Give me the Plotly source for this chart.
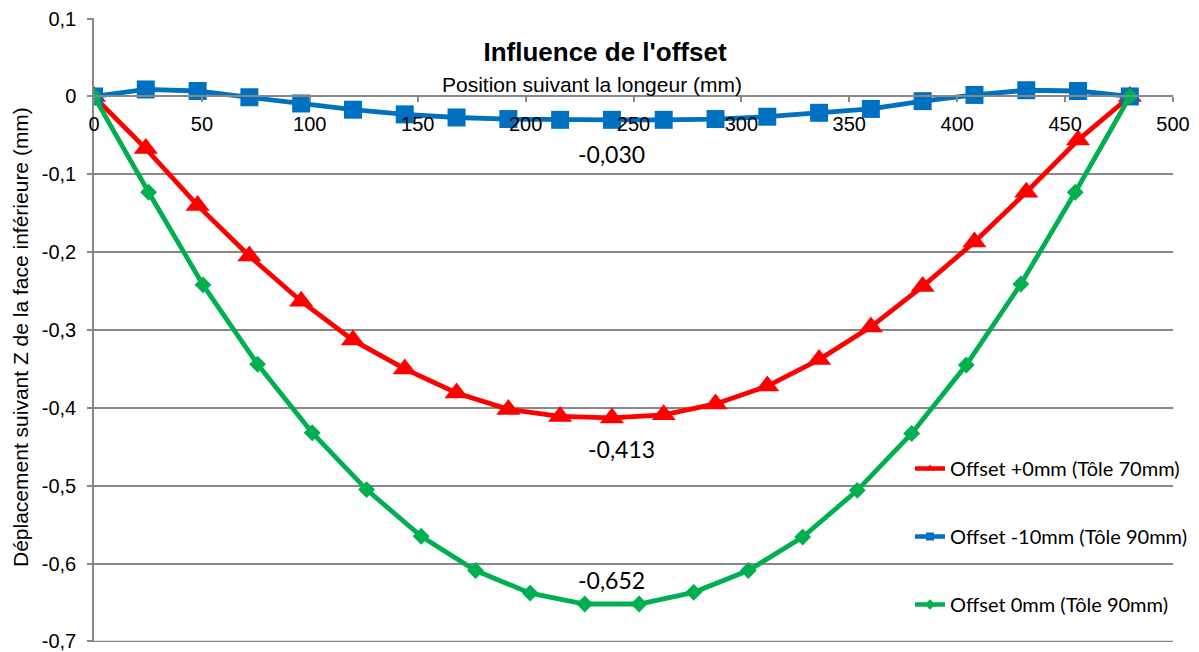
import plotly.graph_objects as go

# ---- data ----
x_pos_24 = [0, 24, 48, 72, 96, 120, 144, 168, 192, 216, 240, 264, 288, 312, 336, 360, 384, 408, 432, 456, 480]
x_pos_green = [0, 25.3, 50.5, 75.8, 101.1, 126.3, 151.6, 176.8, 202.1, 227.4, 252.6, 277.9, 303.2, 328.4,
               353.7, 378.9, 404.2, 429.5, 454.7, 480]

red_vals = [0, -0.067, -0.140, -0.205, -0.263, -0.313, -0.350, -0.381, -0.402, -0.411, -0.413, -0.409,
            -0.395, -0.372, -0.338, -0.296, -0.244, -0.187, -0.123, -0.056, 0]
blue_vals = [0, 0.009, 0.007, -0.001, -0.009, -0.017, -0.023, -0.027, -0.029, -0.030, -0.030, -0.030,
             -0.029, -0.026, -0.021, -0.016, -0.006, 0.002, 0.008, 0.007, 0]
green_vals = [0, -0.123, -0.242, -0.344, -0.432, -0.505, -0.565, -0.609, -0.638, -0.652, -0.652, -0.637,
              -0.609, -0.566, -0.506, -0.433, -0.345, -0.241, -0.123, 0]

series_names = ["Offset +0mm (Tôle 70mm)", "Offset -10mm (Tôle 90mm)", "Offset 0mm (Tôle 90mm)"]
series_colors = ["#FF0000", "#0070C0", "#00B050"]
series_symbols = ["triangle-up", "square", "diamond"]
series_sizes = [21, 18, 13]

y_tickvals = [0.1, 0, -0.1, -0.2, -0.3, -0.4, -0.5, -0.6, -0.7]
y_ticktext = ["0,1", "0", "-0,1", "-0,2", "-0,3", "-0,4", "-0,5", "-0,6", "-0,7"]
x_tickvals = [0, 50, 100, 150, 200, 250, 300, 350, 400, 450, 500]

title_text = "Influence de l'offset"
x_title = "Position suivant la longeur (mm)"
y_title = "Déplacement suivant Z de la face inférieure (mm)"

Y_RANGE = [-0.7, 0.1]
X_RANGE = [0, 500]

GRID = "#878787"
AX_FONT = "Liberation Sans, Arial, sans-serif"
LBL_FONT = "Lato, Carlito, Calibri, sans-serif"

W, H = 1199, 652
ML, MR, MT, MB = 94, 26, 18, 10
PW, PH = W - ML - MR, H - MT - MB


def fmt(v):
    return f"{v:.3f}".replace(".", ",")


fig = go.Figure()

series = [(x_pos_24, red_vals), (x_pos_24, blue_vals), (x_pos_green, green_vals)]
for k, (xs, ys) in enumerate(series):
    fig.add_trace(go.Scatter(
        x=xs, y=ys, name=series_names[k], mode="lines+markers",
        line=dict(color=series_colors[k], width=4.8),
        marker=dict(symbol=series_symbols[k], size=series_sizes[k], color=series_colors[k]),
        showlegend=False, hoverinfo="skip"))

# legend entries (small markers like the original legend)
for k in range(3):
    fig.add_trace(go.Scatter(
        x=[None], y=[None], name=series_names[k], mode="lines+markers",
        line=dict(color=series_colors[k], width=4.5),
        marker=dict(symbol=series_symbols[k], size=8, color=series_colors[k]),
        legendgroup="g%d" % k, showlegend=True))


# data labels for minimum values (centred on the minimum points)
def add_min_label(xs, ys, xshift, yshift):
    m = min(ys)
    xm = [x for x, y in zip(xs, ys) if y == m]
    fig.add_annotation(x=sum(xm) / len(xm), y=m, text=fmt(m), showarrow=False,
                       xshift=xshift, yshift=yshift,
                       font=dict(family=LBL_FONT, size=23, color="#000000"))


add_min_label(x_pos_24, blue_vals, 0, -34)
add_min_label(x_pos_24, red_vals, 10, -31)
add_min_label(x_pos_green, green_vals, 0, 24)

# axis titles
fig.add_annotation(x=(592 - ML) / PW, y=(H - MB - 85) / PH, xref="paper", yref="paper",
                   text=x_title, showarrow=False, xanchor="center", yanchor="middle",
                   font=dict(family=AX_FONT, size=21, color="#000000"))
fig.add_annotation(x=(20 - ML) / PW, y=(H - MB - 337) / PH, xref="paper", yref="paper",
                   text=y_title, showarrow=False, textangle=-90, xanchor="center", yanchor="middle",
                   font=dict(family=AX_FONT, size=21, color="#000000"))

# bottom gridline (plotly drops the gridline at the axis boundary)
fig.add_shape(type="line", xref="paper", x0=0, x1=1, yref="y", y0=Y_RANGE[0], y1=Y_RANGE[0],
              line=dict(color=GRID, width=1.5), layer="below")

x_axis_pos = (0 - Y_RANGE[0]) / (Y_RANGE[1] - Y_RANGE[0])
pad = 0.0008

fig.update_layout(
    width=W, height=H,
    margin=dict(l=ML, r=MR, t=MT, b=MB, autoexpand=False),
    paper_bgcolor="white", plot_bgcolor="white",
    title=dict(text="<b>" + title_text + "</b>", x=605 / W, xanchor="center",
               y=1 - 52 / H, yanchor="middle",
               font=dict(family=AX_FONT, size=26, color="#000000")),
    showlegend=True,
    legend=dict(x=(910 - ML) / PW, y=(H - MB - 449) / PH, xanchor="left", yanchor="top",
                bgcolor="rgba(0,0,0,0)", tracegroupgap=39, traceorder="grouped",
                font=dict(family=LBL_FONT, size=20, color="#000000")),
    xaxis=dict(range=X_RANGE, tickvals=x_tickvals, showgrid=False, zeroline=False,
               anchor="free", position=x_axis_pos, showline=True, linecolor=GRID, linewidth=1.5,
               ticks="outside", ticklen=5, tickcolor=GRID, tickwidth=1.5,
               ticklabelstandoff=5, automargin=False,
               tickfont=dict(family=AX_FONT, size=20, color="#000000")),
    yaxis=dict(range=[Y_RANGE[0] - pad, Y_RANGE[1] + pad], tickvals=y_tickvals, ticktext=y_ticktext,
               showgrid=True, gridcolor=GRID, gridwidth=1.5, zeroline=False,
               showline=True, linecolor=GRID, linewidth=1.5,
               ticks="outside", ticklen=5, tickcolor=GRID, tickwidth=1.5,
               ticklabelstandoff=7, automargin=False, ticklabeloverflow="allow",
               tickfont=dict(family=AX_FONT, size=20, color="#000000")),
)

fig.write_html("out.html", config={"displayModeBar": False},
               post_script="document.body.style.margin='0';")
